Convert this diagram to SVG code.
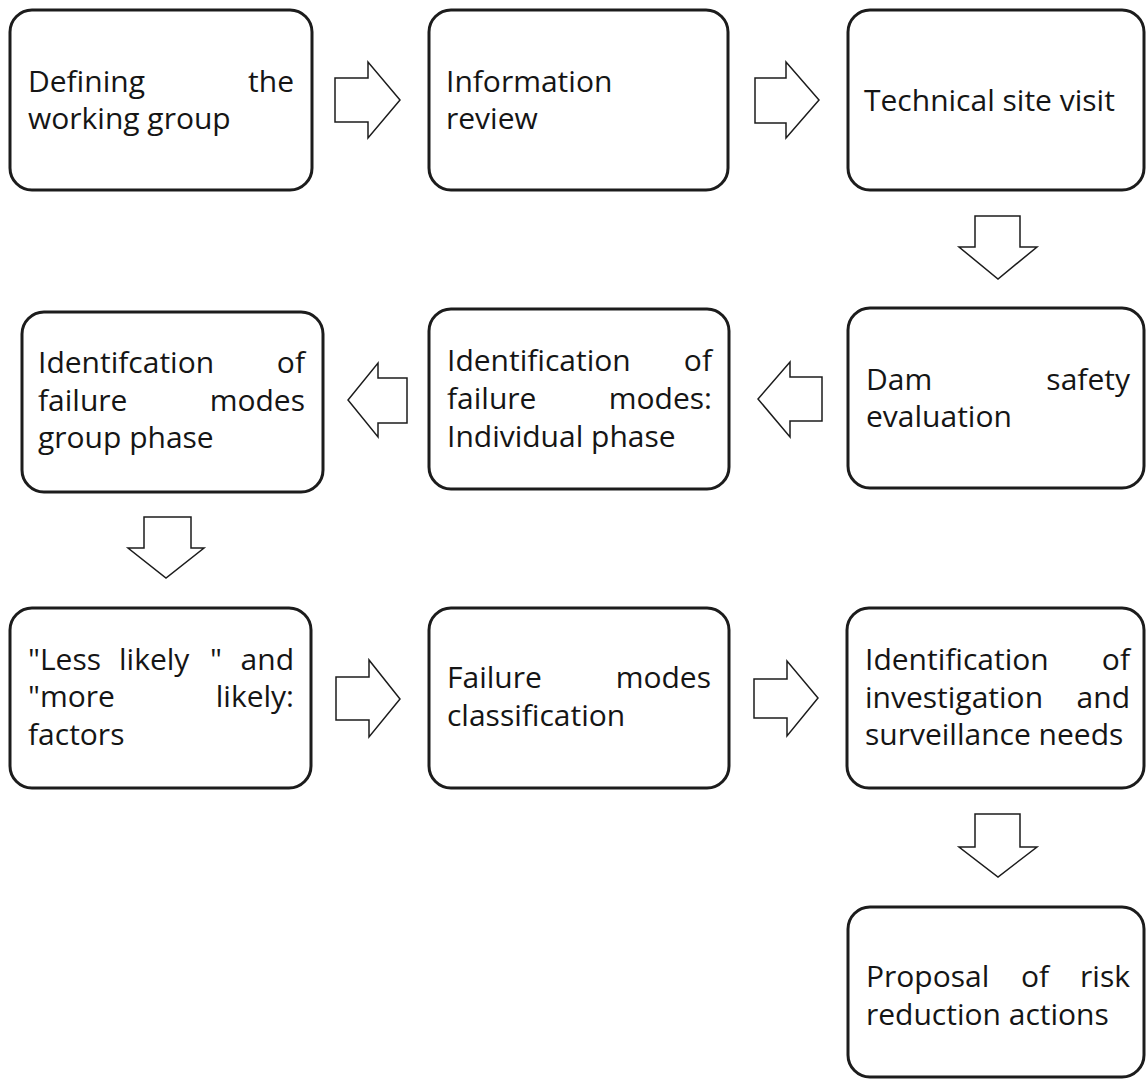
<svg xmlns="http://www.w3.org/2000/svg" width="1147" height="1083" viewBox="0 0 1147 1083">
  <style>
    .box { fill: #ffffff; stroke: #1c1c1c; stroke-width: 3; }
    .arrow { fill: #ffffff; stroke: #1c1c1c; stroke-width: 1.5; stroke-linejoin: miter; }
    text { font-family: "Open Sans", Lato, "Liberation Sans", sans-serif; font-size: 30px; fill: #151515; }
    .end { text-anchor: end; }
  </style>
  <rect width="1147" height="1083" fill="#ffffff"/>

  <!-- block arrows between steps -->
  <g id="connectors">
    <path class="arrow" d="M335,78 H368 V62 L400,100 L368,138 V122 H335 Z"/>
    <path class="arrow" d="M755,78 H786 V62 L819,100 L786,138 V123 H755 Z"/>
    <path class="arrow" d="M975,216 H1020 V247 H1037 L998,279 L959,247 H975 Z"/>
    <path class="arrow" d="M822,377 H790 V362 L758,399 L790,437 V421 H822 Z"/>
    <path class="arrow" d="M407,378 H378 V363 L348,400 L378,437 V423 H407 Z"/>
    <path class="arrow" d="M144,517 H191 V548 H204 L166,578 L128,548 H144 Z"/>
    <path class="arrow" d="M336,677 H369 V660 L400,699 L369,737 V720 H336 Z"/>
    <path class="arrow" d="M754,679 H787 V661 L818,698 L787,736 V718 H754 Z"/>
    <path class="arrow" d="M975,814 H1020 V847 H1037 L998,877 L959,847 H975 Z"/>
  </g>

  <!-- row 1 -->
  <g id="defining-working-group">
    <rect class="box" x="10" y="10" width="302" height="180" rx="22"/>
    <text x="28" y="92">Defining</text>
    <text class="end" x="294" y="92">the</text>
    <text x="28" y="129">working group</text>
  </g>
  <g id="information-review">
    <rect class="box" x="429" y="10" width="299" height="180" rx="22"/>
    <text x="446" y="92">Information</text>
    <text x="446" y="129">review</text>
  </g>
  <g id="technical-site-visit">
    <rect class="box" x="848" y="10" width="296" height="180" rx="22"/>
    <text x="864" y="111">Technical site visit</text>
  </g>

  <!-- row 2 -->
  <g id="dam-safety-evaluation">
    <rect class="box" x="848" y="308" width="296" height="180" rx="22"/>
    <text x="866" y="390">Dam</text>
    <text class="end" x="1130" y="390">safety</text>
    <text x="866" y="427">evaluation</text>
  </g>
  <g id="failure-modes-individual">
    <rect class="box" x="429" y="309" width="300" height="180" rx="22"/>
    <text x="447" y="371">Identification</text>
    <text class="end" x="712" y="371">of</text>
    <text x="447" y="409">failure</text>
    <text class="end" x="712" y="409">modes:</text>
    <text x="447" y="447">Individual phase</text>
  </g>
  <g id="failure-modes-group">
    <rect class="box" x="22" y="312" width="301" height="180" rx="22"/>
    <text x="38" y="373">Identifcation</text>
    <text class="end" x="305" y="373">of</text>
    <text x="38" y="411">failure</text>
    <text class="end" x="305" y="411">modes</text>
    <text x="38" y="448">group phase</text>
  </g>

  <!-- row 3 -->
  <g id="likely-factors">
    <rect class="box" x="10" y="608" width="301" height="180" rx="22"/>
    <text x="28" y="670">"Less</text>
    <text x="119" y="670">likely</text>
    <text x="210" y="670">"</text>
    <text class="end" x="294" y="670">and</text>
    <text x="28" y="707">"more</text>
    <text class="end" x="294" y="707">likely:</text>
    <text x="28" y="745">factors</text>
  </g>
  <g id="failure-modes-classification">
    <rect class="box" x="429" y="608" width="300" height="180" rx="22"/>
    <text x="447" y="688">Failure</text>
    <text class="end" x="711" y="688">modes</text>
    <text x="447" y="726">classification</text>
  </g>
  <g id="investigation-surveillance">
    <rect class="box" x="847" y="608" width="297" height="180" rx="22"/>
    <text x="865" y="670">Identification</text>
    <text class="end" x="1130" y="670">of</text>
    <text x="865" y="708">investigation</text>
    <text class="end" x="1130" y="708">and</text>
    <text x="865" y="745">surveillance needs</text>
  </g>
  <g id="risk-reduction-actions">
    <rect class="box" x="848" y="907" width="296" height="170" rx="22"/>
    <text x="866" y="987">Proposal</text>
    <text x="1021" y="987">of</text>
    <text class="end" x="1130" y="987">risk</text>
    <text x="866" y="1025">reduction actions</text>
  </g>
</svg>
